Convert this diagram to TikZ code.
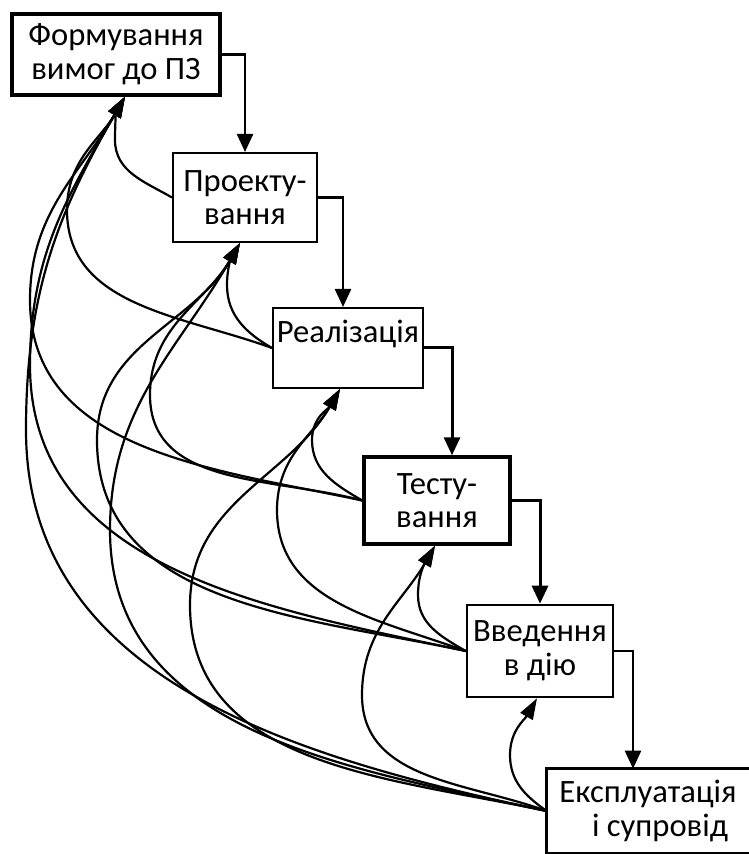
\documentclass[tikz,border=0pt]{standalone}
\usepackage{fontspec}
\setmainfont{Carlito}
\usetikzlibrary{arrows.meta}
\begin{document}
\begin{tikzpicture}[x=0.5pt,y=0.5pt,
  box/.style={draw, rectangle, align=center, inner sep=0pt, fill=white,
    font=\fontsize{16.3}{16.8}\selectfont, text=black},
  fwd/.style={line width=1.2pt, -{Triangle[length=9pt,width=8pt]}},
  fb/.style={line width=1.1pt, -{Triangle[length=10.5pt,width=7pt]}}]
\useasboundingbox (0,0) rectangle (748,-854);
% boxes
\node[box, line width=1.7pt, minimum width=104pt, minimum height=40.5pt] (b1) at (116,-54.5) {Формування\\вимог до ПЗ};
\node[box, line width=1pt, minimum width=72pt, minimum height=44.5pt] (b2) at (245,-197.5) {Проекту-\\вання};
\node[box, line width=1pt, minimum width=75pt, minimum height=40pt] (b3) at (348,-348) {Реалізація\\[0pt]~};
\node[box, line width=1.7pt, minimum width=73pt, minimum height=43.5pt] (b4) at (437,-500.5) {Тесту-\\вання};
\node[box, line width=1.3pt, minimum width=73pt, minimum height=46pt] (b5) at (540,-651) {Введення\\в дію};
% last box runs off the right edge: no right side drawn
\node[box, draw=none, fill=none, line width=1.3pt, minimum width=100pt, minimum height=41pt] (b6) at (648,-811) {Експлуатація\\\hspace*{12pt}і супровід};
\draw[line width=1.5pt] (b6.north east) -- (b6.north west) -- (b6.south west) -- (b6.south east);
% arrow tips on the bottom of upper boxes
\coordinate (t1) at ([xshift=4.5pt]b1.south);
\coordinate (t2) at ([xshift=-2.5pt]b2.south);
\coordinate (t3) at ([xshift=-4pt]b3.south);
\coordinate (t4) at ([xshift=-1pt]b4.south);
\coordinate (t5) at ([xshift=-1.5pt]b5.south);
% leftmost points of the feedback curves
\coordinate (l21) at (115,-140);
\coordinate (l31) at (67,-210);
\coordinate (l41) at (30,-300);
\coordinate (l51) at (30,-365);
\coordinate (l61) at (26,-430);
\coordinate (l32) at (227,-285);
\coordinate (l42) at (150,-395);
\coordinate (l52) at (97,-440);
\coordinate (l62) at (110,-530);
\coordinate (l43) at (312,-440);
\coordinate (l53) at (277,-510);
\coordinate (l63) at (190,-605);
\coordinate (l54) at (418,-595);
\coordinate (l64) at (362,-695);
\coordinate (l65) at (510,-755);
% forward arrows
\draw[fwd] (b1.east) -| (b2.north);
\draw[fwd] (b2.east) -| ([xshift=-2.5pt]b3.north);
\draw[fwd, line width=1.5pt] (b3.east) -| ([xshift=7.5pt]b4.north);
\draw[fwd, line width=1.5pt] (b4.east) -| (b5.north);
\draw[fwd] (b5.east) -| ([xshift=-7.5pt]b6.north);
% feedback to box 1
\draw[fb] (b2.west) to[out=150,in=270] (l21) to[out=90,in=240] (t1);
\draw[fb] (b3.west) to[out=160,in=270] (l31) to[out=90,in=240] (t1);
\draw[fb] (b4.west) to[out=168,in=270] (l41) to[out=90,in=240] (t1);
\draw[fb] (b5.west) to[out=168,in=270] (l51) to[out=90,in=240] (t1);
\draw[fb] (b6.west) to[out=168,in=270] (l61) to[out=90,in=240] (t1);
% feedback to box 2
\draw[fb] (b3.west) to[out=150,in=270] (l32) to[out=90,in=240] (t2);
\draw[fb] (b4.west) to[out=165,in=270] (l42) to[out=90,in=240] (t2);
\draw[fb] (b5.west) to[out=168,in=270] (l52) to[out=90,in=240] (t2);
\draw[fb] (b6.west) to[out=168,in=270] (l62) to[out=90,in=240] (t2);
% feedback to box 3
\draw[fb] (b4.west) to[out=150,in=270] (l43) to[out=90,in=240] (t3);
\draw[fb] (b5.west) to[out=160,in=270] (l53) to[out=90,in=240] (t3);
\draw[fb] (b6.west) to[out=168,in=270] (l63) to[out=90,in=240] (t3);
% feedback to box 4
\draw[fb] (b5.west) to[out=150,in=270] (l54) to[out=90,in=240] (t4);
\draw[fb] (b6.west) to[out=160,in=270] (l64) to[out=90,in=240] (t4);
% feedback to box 5
\draw[fb] (b6.west) to[out=145,in=270] (l65) to[out=90,in=240] (t5);
\end{tikzpicture}
\end{document}
